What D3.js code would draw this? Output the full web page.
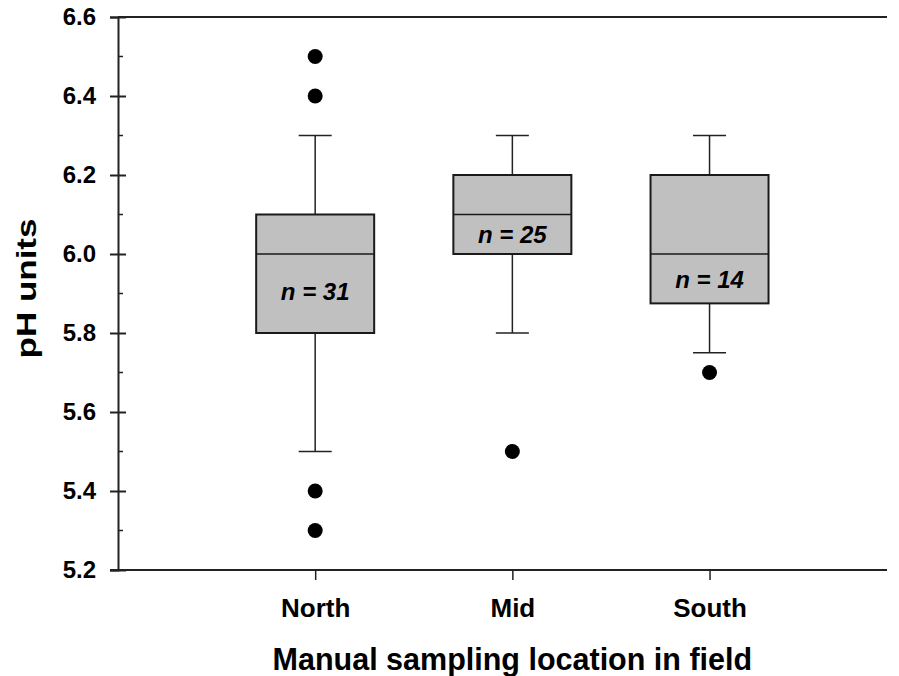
<!DOCTYPE html>
<html>
<head>
<meta charset="utf-8">
<script src="https://cdn.jsdelivr.net/npm/d3@7"></script>
<style>
  body { margin: 0; background: #fff; }
  text { font-family: Arial, "Liberation Sans", sans-serif; font-weight: bold; }
</style>
</head>
<body>
<div id="chart"></div>
<script>
// data
const locations = ["North", "Mid", "South"];
const lowWhisker = [5.5, 5.8, 5.75];
const q1 = [5.8, 6.0, 5.875];
const median = [6.0, 6.1, 6.0];
const q3 = [6.1, 6.2, 6.2];
const highWhisker = [6.3, 6.3, 6.3];
const outliers = [[6.5, 6.4, 5.4, 5.3], [5.5], [5.7]];
const counts = [31, 25, 14];
const countLabelAt = [5.905, 6.048, 5.935];
const yMajorTicks = [5.2, 5.4, 5.6, 5.8, 6.0, 6.2, 6.4, 6.6];
const yMinorTicks = [5.3, 5.5, 5.7, 5.9, 6.1, 6.3, 6.5];

const W = 899, H = 676;
const LEFT = 118, RIGHT = 887, TOP = 17, BOTTOM = 570;
const BOX_HALF = 59, CAP_HALF = 16.5;

const svg = d3.select("#chart").append("svg")
    .attr("width", W).attr("height", H);

const y = d3.scaleLinear().domain([5.2, 6.6]).range([BOTTOM, TOP]);
// category index -> pixel, extra room on the left like the original
const x = d3.scaleLinear().domain([-1, 2.9]).range([LEFT, RIGHT]);

// frame: top line and bottom line
svg.append("line")
    .attr("x1", LEFT).attr("x2", RIGHT).attr("y1", TOP).attr("y2", TOP)
    .attr("stroke", "#222").attr("stroke-width", 2);
svg.append("line")
    .attr("x1", LEFT - 8).attr("x2", RIGHT).attr("y1", BOTTOM).attr("y2", BOTTOM)
    .attr("stroke", "#222").attr("stroke-width", 2);

// y axis
const yAxis = svg.append("g")
    .attr("transform", `translate(${LEFT},0)`)
    .call(d3.axisLeft(y).tickValues(yMajorTicks).tickFormat(d3.format(".1f")).tickSize(8).tickPadding(14));
yAxis.select(".domain").attr("stroke", "#222").attr("stroke-width", 2);
yAxis.selectAll(".tick line").attr("x1", 8).attr("stroke", "#222").attr("stroke-width", 2);
yAxis.selectAll(".tick text")
    .attr("font-size", 24).attr("fill", "#000")
    .style("font-family", "Arial, 'Liberation Sans', sans-serif").style("font-weight", "bold");

svg.append("g").selectAll("line")
    .data(yMinorTicks).join("line")
    .attr("x1", LEFT).attr("x2", LEFT + 5)
    .attr("y1", d => y(d)).attr("y2", d => y(d))
    .attr("stroke", "#222").attr("stroke-width", 1.5);

// x axis
const xAxis = svg.append("g")
    .attr("transform", `translate(0,${BOTTOM})`)
    .call(d3.axisBottom(x).tickValues([0, 1, 2]).tickFormat(i => locations[i]).tickSize(10).tickPadding(19));
xAxis.select(".domain").remove();
xAxis.selectAll(".tick line").attr("stroke", "#222").attr("stroke-width", 1.5);
xAxis.selectAll(".tick text")
    .attr("font-size", 26).attr("fill", "#000")
    .style("font-family", "Arial, 'Liberation Sans', sans-serif").style("font-weight", "bold");

// boxes
const boxes = svg.append("g").selectAll("g")
    .data(locations.map((name, i) => ({
        i, name, lo: lowWhisker[i], q1: q1[i], med: median[i], q3: q3[i], hi: highWhisker[i],
        out: outliers[i], n: counts[i], at: countLabelAt[i]
    })))
    .join("g");

boxes.append("line")
    .attr("x1", d => x(d.i)).attr("x2", d => x(d.i))
    .attr("y1", d => y(d.hi)).attr("y2", d => y(d.q3))
    .attr("stroke", "#222").attr("stroke-width", 1.5);
boxes.append("line")
    .attr("x1", d => x(d.i)).attr("x2", d => x(d.i))
    .attr("y1", d => y(d.q1)).attr("y2", d => y(d.lo))
    .attr("stroke", "#222").attr("stroke-width", 1.5);
boxes.append("line")
    .attr("x1", d => x(d.i) - CAP_HALF).attr("x2", d => x(d.i) + CAP_HALF)
    .attr("y1", d => y(d.hi)).attr("y2", d => y(d.hi))
    .attr("stroke", "#222").attr("stroke-width", 1.5);
boxes.append("line")
    .attr("x1", d => x(d.i) - CAP_HALF).attr("x2", d => x(d.i) + CAP_HALF)
    .attr("y1", d => y(d.lo)).attr("y2", d => y(d.lo))
    .attr("stroke", "#222").attr("stroke-width", 1.5);

boxes.append("rect")
    .attr("x", d => x(d.i) - BOX_HALF).attr("width", BOX_HALF * 2)
    .attr("y", d => y(d.q3)).attr("height", d => y(d.q1) - y(d.q3))
    .attr("fill", "#c0c0c0").attr("stroke", "#1a1a1a").attr("stroke-width", 2);
boxes.append("line")
    .attr("x1", d => x(d.i) - BOX_HALF).attr("x2", d => x(d.i) + BOX_HALF)
    .attr("y1", d => y(d.med)).attr("y2", d => y(d.med))
    .attr("stroke", "#1a1a1a").attr("stroke-width", 1.5);

boxes.append("text")
    .attr("x", d => x(d.i)).attr("y", d => y(d.at))
    .attr("dy", "0.35em")
    .attr("text-anchor", "middle")
    .attr("font-size", 24).attr("font-style", "italic")
    .text(d => `n = ${d.n}`);

boxes.selectAll("circle")
    .data(d => d.out.map(v => ({ i: d.i, v })))
    .join("circle")
    .attr("cx", d => x(d.i)).attr("cy", d => y(d.v))
    .attr("r", 7.5).attr("fill", "#000");

// axis titles
svg.append("text")
    .attr("x", x(1)).attr("y", 670)
    .attr("text-anchor", "middle")
    .attr("font-size", 30.5)
    .text("Manual sampling location in field");

svg.append("text")
    .attr("transform", `translate(36,${(TOP + BOTTOM) / 2 - 5}) rotate(-90) scale(1.25,1)`)
    .attr("text-anchor", "middle")
    .attr("font-size", 28)
    .text("pH units");
</script>
</body>
</html>
